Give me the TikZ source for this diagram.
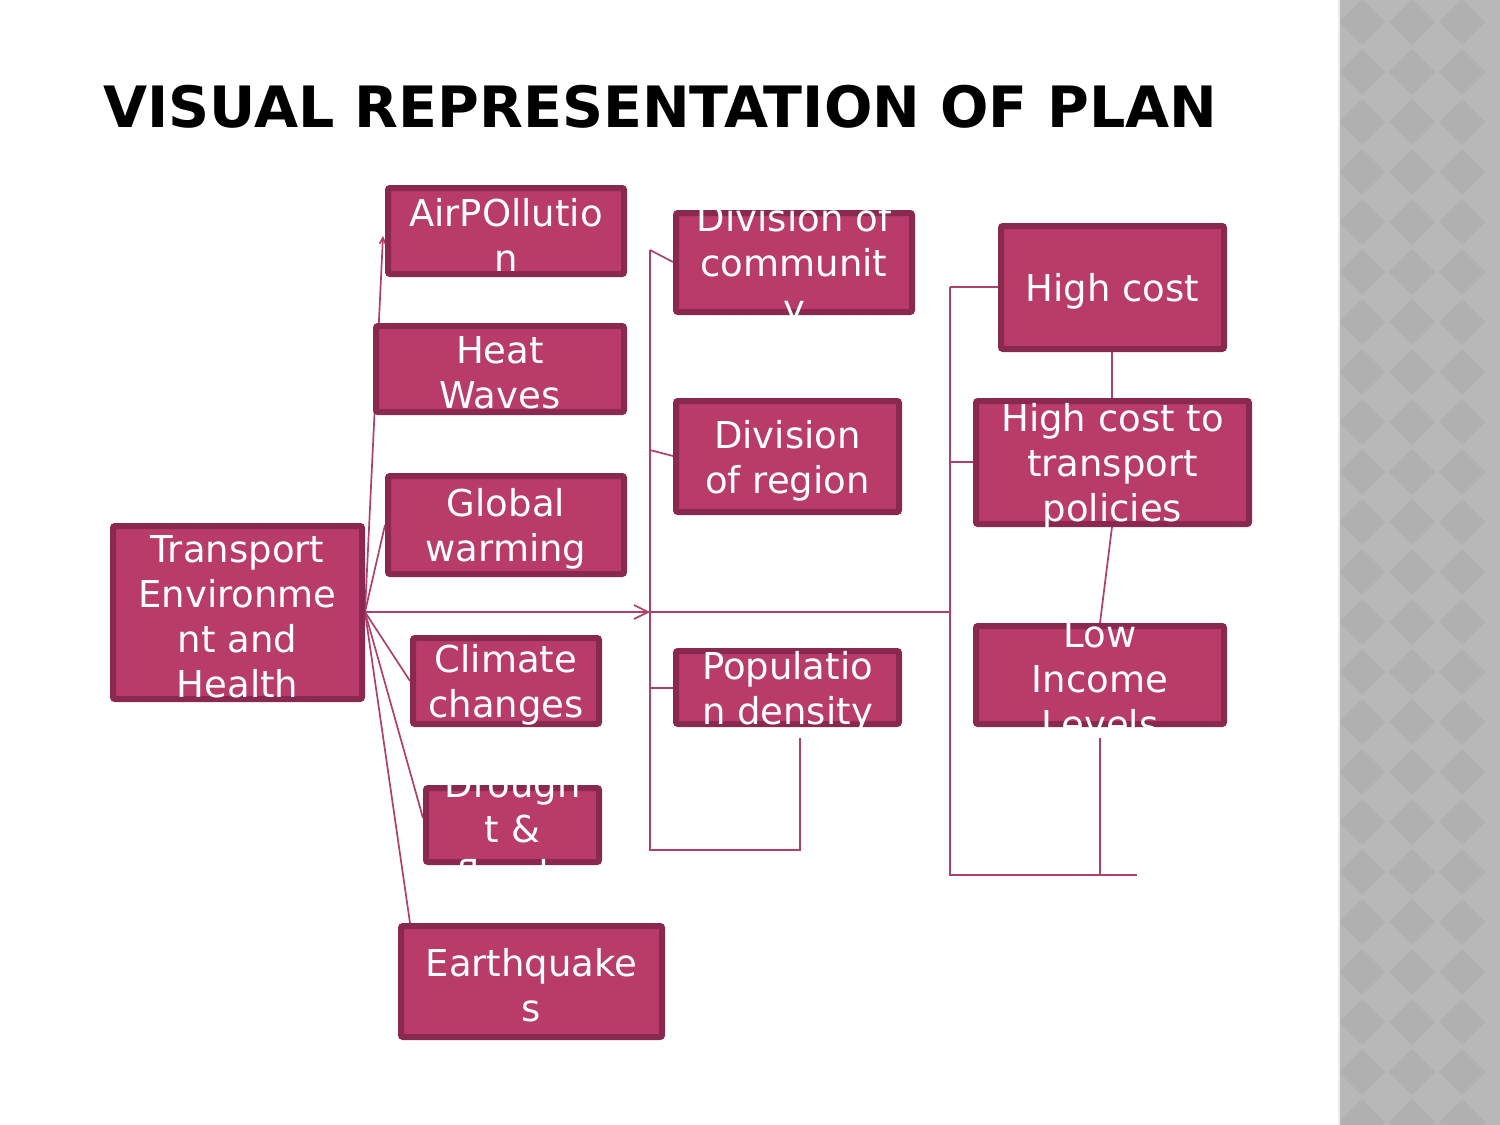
\documentclass[tikz,border=0pt]{standalone}
\usepackage{fontspec}
\setmainfont{DejaVu Sans}
\usetikzlibrary{arrows,arrows.meta,positioning}

\definecolor{boxfill}{HTML}{B83B69}
\definecolor{boxedge}{HTML}{8A2950}
\definecolor{linkcol}{HTML}{B0406B}
\definecolor{panelgray}{HTML}{B8B8B8}
\definecolor{paneldiam}{HTML}{B0B0B0}

\begin{document}
\begin{tikzpicture}[
  x=1pt,y=-1pt,
  topic/.style={draw=boxedge,line width=6pt,fill=boxfill,rounded corners=2pt,inner sep=0pt},
  topictext/.style={text=white,align=center,inner sep=0pt,font=\fontsize{37}{45}\selectfont},
  link/.style={linkcol,line width=1.7pt},
  barb/.style={-{Straight Barb[length=#1,width=#1]}}
]
  \useasboundingbox (0,0) rectangle (1500,1125);

  % side panel
  \fill[panelgray] (1338,0) rectangle (1500,1125);
  \foreach \i in {0,1,2}
    \foreach \j in {0,...,22}
      \fill[paneldiam] ({1362+50*\i},{22+50*\j}) +(-23,0) -- +(0,-23) -- +(23,0) -- +(0,23) -- cycle;
  \draw[white!85!gray,line width=2pt] (1339,0) -- (1339,1125);

  \node[anchor=base west,font=\fontsize{57}{68}\selectfont\bfseries] (title) at (100,127) {VISUAL REPRESENTATION OF PLAN};

  % boxes drawn later, lines first
  \coordinate (hub1) at (650,612);
  \coordinate (hub2) at (950,612);
  \coordinate (bus1top) at (650,250);
  \coordinate (bus1bot) at (650,850);
  \coordinate (bus2top) at (950,287);
  \coordinate (bus2bot) at (950,875);
  \coordinate (popfoot) at (800,738);
  \coordinate (popcorner) at (800,850);
  \coordinate (lowfoot) at (1100,738);
  \coordinate (lowcorner) at (1100,875);
  \coordinate (bus2end) at (1137,875);

  \foreach \nm/\xa/\ya/\xb/\yb/\txt in {
    trans/110/523/365/702/{Transport\\Environme\\nt and\\Health},
    air/385/185/627/277/{AirPOllutio\\n},
    heat/373/323/627/415/{Heat\\Waves},
    glob/385/473/627/577/{Global\\warming},
    clim/410/635/602/727/{Climate\\changes},
    drou/423/785/602/865/{Drough\\t \&\\floods},
    earth/398/923/665/1040/{Earthquake\\s},
    divc/673/210/915/315/{Division of\\communit\\y},
    divr/673/398/902/515/{Division\\of region},
    pop/673/648/902/727/{Populatio\\n density},
    high/998/223/1227/352/{High cost},
    hct/973/398/1252/527/{High cost to\\transport\\policies},
    low/973/623/1227/727/{Low\\Income\\Levels}}
    \coordinate (\nm) at ({(\xa+\xb)/2},{(\ya+\yb)/2});

  \draw[link,barb=6pt] (365,612) -- (383,236);
  \draw[link] (365,612) -- (385,525);
  \draw[link,barb=14pt] (365,612) -- (hub1);
  \draw[link] (365,612) -- (410,681);
  \draw[link] (365,612) -- (423,818);
  \draw[link] (365,612) -- (410,923);
  \draw[link] (hub1) -- (hub2);

  \draw[link] (bus1top) -- (bus1bot) -- (popcorner) -- (popfoot);
  \draw[link] (bus1top) -- (673,262);
  \draw[link] (650,450) -- (673,456);
  \draw[link] (650,688) -- (673,688);

  \draw[link] (bus2top) -- (bus2bot) -- (bus2end);
  \draw[link] (lowfoot) -- (lowcorner);
  \draw[link] (bus2top) -- (998,287);
  \draw[link] (950,462) -- (973,462);
  \draw[link] (1112,352) -- (1112,398);
  \draw[link] (1112,527) -- (1100,623);

  \foreach \nm/\xa/\ya/\xb/\yb/\txt in {
    trans/110/523/365/702/{Transport\\Environme\\nt and\\Health},
    air/385/185/627/277/{AirPOllutio\\n},
    heat/373/323/627/415/{Heat\\Waves},
    glob/385/473/627/577/{Global\\warming},
    clim/410/635/602/727/{Climate\\changes},
    drou/423/785/602/865/{Drough\\t \&\\floods},
    earth/398/923/665/1040/{Earthquake\\s},
    divc/673/210/915/315/{Division of\\communit\\y},
    divr/673/398/902/515/{Division\\of region},
    pop/673/648/902/727/{Populatio\\n density},
    high/998/223/1227/352/{High cost},
    hct/973/398/1252/527/{High cost to\\transport\\policies},
    low/973/623/1227/727/{Low\\Income\\Levels}}
  {
    \node[topic,minimum width={\xb-\xa-6},minimum height={\yb-\ya-6}] (\nm-box) at (\nm) {};
    \node[topictext] (\nm-text) at ([yshift=-4pt]\nm) {\txt};
  }
\end{tikzpicture}
\end{document}
